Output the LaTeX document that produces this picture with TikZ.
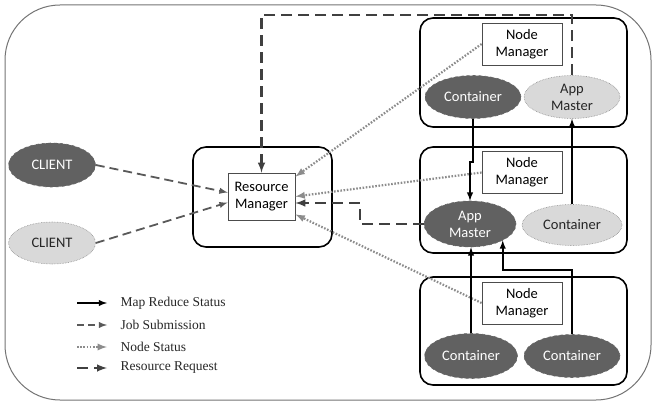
\documentclass[tikz,border=0pt]{standalone}
\usepackage{fontspec}
\setmainfont{Carlito}
\newfontfamily\legfont{Liberation Serif}
\usetikzlibrary{shapes.geometric}

\begin{document}
\begin{tikzpicture}[x=1pt,y=-1pt,host/.style={draw=black,line width=1.6pt,rounded corners=13pt,minimum width=207pt,minimum height=107pt},mgr/.style={draw=black!70,line width=0.8pt,fill=white,align=center,inner sep=0pt,minimum width=80pt,minimum height=42pt,font=\fontsize{14.5}{17}\selectfont},ovD/.style={ellipse,draw=black!60,dashed,line width=0.6pt,fill=black!62,text=white,align=center,inner sep=0pt,minimum width=96pt,minimum height=43pt,font=\fontsize{14.5}{17}\selectfont},ovL/.style={ovD,draw=black!45,densely dotted,fill=black!15,text=black!85},mr/.style={-latex,line width=1.8pt,black},job/.style={-latex,line width=1.8pt,black!65,dash pattern=on 9pt off 5pt},ns/.style={-latex,line width=2.2pt,black!45,dash pattern=on 1.6pt off 1.6pt},rr/.style={-latex,line width=2.4pt,black!75,dash pattern=on 11pt off 6pt},leg/.style={anchor=west,font=\legfont\fontsize{13.5}{15}\selectfont,text=black!85}]
\useasboundingbox (0,0) rectangle (653,406);
\draw[black!55,line width=1pt,rounded corners=55pt] (5,5) rectangle (651,400);

\node[host,minimum width=139pt,minimum height=100pt] (RMbox) at (262.5,197) {};
\node[host,minimum height=109pt] (H1) at (523.5,72.5) {};
\node[host,minimum height=106pt] (H2) at (523.5,200) {};
\node[host,minimum height=108pt] (H3) at (523.5,331) {};

\node[mgr,minimum width=67pt,minimum height=47pt] (RM) at (261.5,196.5) {Resource\\Manager};
\node[mgr] (NM1) at (522,44) {Node\\Manager};
\node[mgr] (NM2) at (522,172.5) {Node\\Manager};
\node[mgr] (NM3) at (522,303) {Node\\Manager};

\node[ovD,minimum width=87pt,minimum height=44pt] (CL1) at (52,165) {CLIENT};
\node[ovL,minimum width=87pt,minimum height=42pt] (CL2) at (52,243) {CLIENT};

\node[ovD] (C1) at (473,97) {Container};
\node[ovL] (AM1) at (572,97) {App\\Master};
\node[ovD,minimum width=92pt,minimum height=46pt] (AM2) at (470,224) {App\\Master};
\node[ovL,minimum width=100pt,minimum height=41pt] (C2) at (572,225) {Container};
\node[ovD,minimum width=93pt,minimum height=45pt] (C3) at (471,356) {Container};
\node[ovD] (C4) at (572,356) {Container};

\draw[job] (CL1.east) -- ([yshift=4pt]RM.west);
\draw[job] (CL2.east) -- ([yshift=-6pt]RM.west);

\draw[ns] (NM1.west) -- ([yshift=-4pt]RM.north east);
\draw[ns] (NM2.west) -- (RM.east);
\draw[ns] (NM3.west) -- ([yshift=6pt]RM.south east);

\draw[rr] (AM1.north) -- (AM1.north |- 0,15) -| (RM.north);
\draw[rr] (AM2.west) -| (360,203) -- (RM.east |- 0,203);

\draw[mr] (C1.south) -- (C1.south |- 0,162) -| (AM2.north);
\draw[mr] (C2.north) -- (AM1.south);
\draw[mr] (C3.north) -- (C3.north |- AM2.south);
\draw[mr] (C4.north) |- (AM2.south east |- 0,270) -- (AM2.south east);

\draw[mr] (77,303) -- ++(30,0);
\node[leg] (L1) at (117,303) {Map Reduce Status};
\draw[job,dash pattern=on 7pt off 4pt] (77,325) -- ++(30,0);
\node[leg] (L2) at (117,325) {Job Submission};
\draw[ns] (77,347) -- ++(30,0);
\node[leg] (L3) at (117,347) {Node Status};
\draw[rr] (77,368) -- ++(30,0);
\node[leg] (L4) at (117,368) {Resource Request};
\end{tikzpicture}
\end{document}
